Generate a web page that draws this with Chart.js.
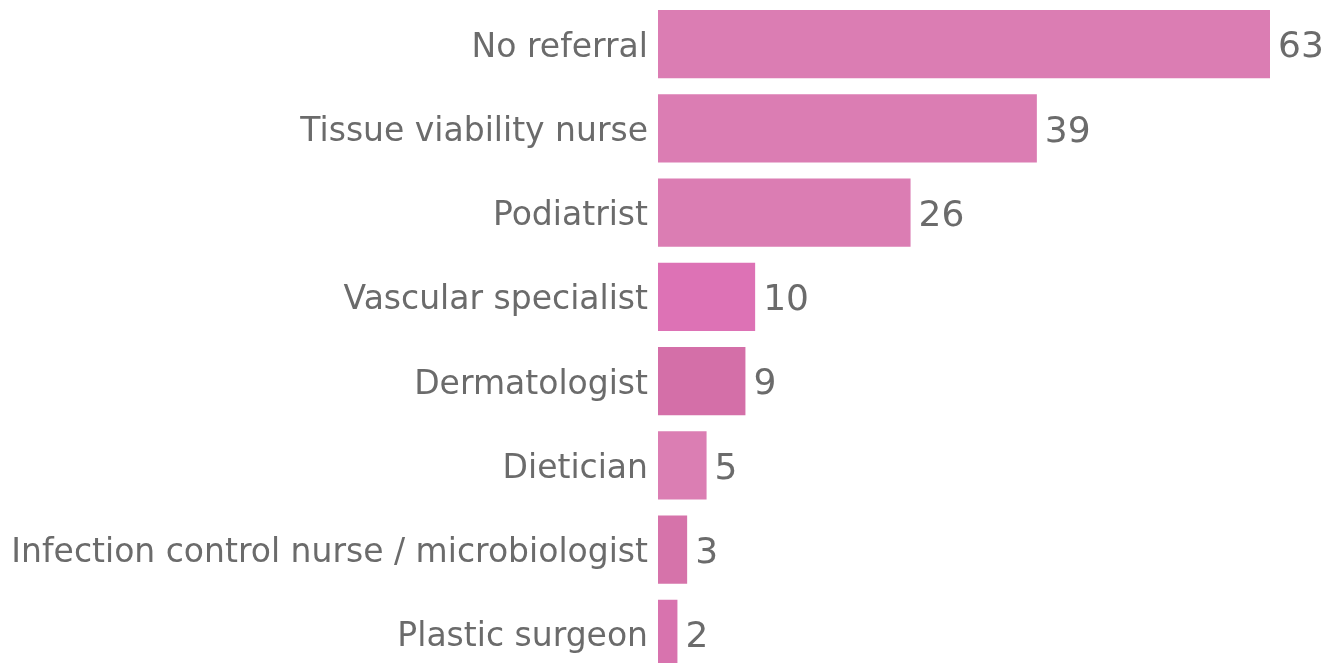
<!DOCTYPE html>
<html>
<head>
<meta charset="utf-8">
<script src="https://cdn.jsdelivr.net/npm/chart.js@4"></script>
<style>
  html, body { margin: 0; padding: 0; background: #fff; overflow: hidden; }
  #wrap { position: relative; width: 1326px; height: 678px; }
</style>
</head>
<body>
<div id="wrap"><canvas id="chart"></canvas></div>
<script>
/* global Chart */
const categories = [
  "No referral",
  "Tissue viability nurse",
  "Podiatrist",
  "Vascular specialist",
  "Dermatologist",
  "Dietician",
  "Infection control nurse / microbiologist",
  "Plastic surgeon"
];
const counts = [63, 39, 26, 10, 9, 5, 3, 2];
const barColors = ["#DB7DB3", "#DB7DB3", "#DB7DB3", "#DD72B5", "#D46FA8", "#DB7EB3", "#D673AA", "#D873AE"];

const FONT = "'DejaVu Sans', Verdana, sans-serif";
const TEXT = "#6b6b6b";

// 値ラベル（バー右端に表示）
const valueLabels = {
  id: "valueLabels",
  afterDatasetsDraw(chart) {
    const ctx = chart.ctx;
    const meta = chart.getDatasetMeta(0);
    ctx.save();
    ctx.font = `36px ${FONT}`;
    ctx.fillStyle = TEXT;
    ctx.textAlign = "left";
    ctx.textBaseline = "middle";
    meta.data.forEach((bar, i) => {
      ctx.fillText(String(counts[i]), bar.x + 8, bar.y + 4);
    });
    ctx.restore();
  }
};

new Chart(document.getElementById("chart").getContext("2d"), {
  type: "bar",
  data: {
    labels: categories,
    datasets: [{ data: counts, backgroundColor: barColors, barPercentage: 0.81, categoryPercentage: 1 }]
  },
  options: {
    indexAxis: "y",
    responsive: true,
    maintainAspectRatio: false,
    animation: false,
    layout: { padding: { top: 2, right: 56, bottom: 2, left: 0 } },
    plugins: { legend: { display: false }, tooltip: { enabled: false } },
    scales: {
      x: { display: false, min: 0, max: 63 },
      y: {
        grid: { display: false },
        border: { display: false },
        afterFit(scale) {
          scale.width = 658;
          scale.paddingTop = 0;
          scale.paddingBottom = 0;
        },
        ticks: { color: TEXT, font: { family: FONT, size: 33 }, padding: 2, labelOffset: 4 }
      }
    }
  },
  plugins: [valueLabels]
});
</script>
</body>
</html>
